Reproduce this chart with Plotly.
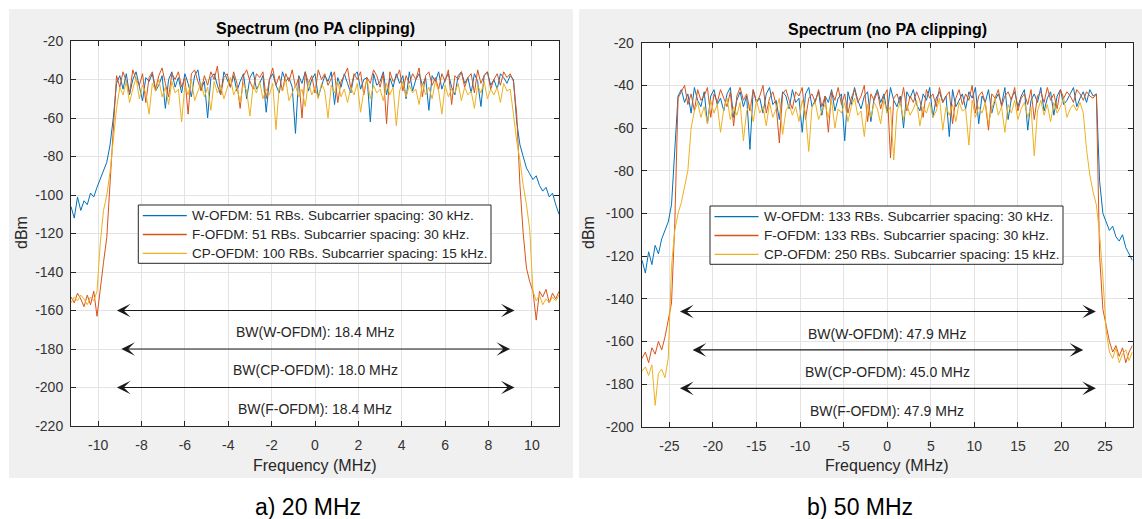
import numpy as np
import plotly.graph_objects as go

W, H = 1142, 519
FONT = "Liberation Sans, Arial, Helvetica, sans-serif"
C_W, C_F, C_CP = "#0072BD", "#D95319", "#EDB120"
AX = "#262626"

# ---------------- data: 20 MHz case ----------------
freq20 = np.round(np.linspace(-11.25, 11.25, 151), 3)

w20_low = [-106, -112, -101, -108, -103, -105, -99, -101, -96, -92, -88, -83, -74, -60]
w20_band = [
    -42, -38, -45, -37, -48, -40, -36, -44, -51, -39, -41, -37, -46, -43, -38, -55, -40, -36, -44, -39,
    -47, -37, -42, -49, -38, -35, -45, -41, -60, -39, -37, -43, -48, -36, -40, -44, -38, -46, -41, -37,
    -50, -39, -36, -45, -42, -38, -57, -40, -37, -43, -47, -36, -41, -39, -44, -68, -38, -42, -36, -46,
    -40, -37, -49, -43, -38, -41, -36, -53, -39, -44, -37, -42, -47, -38, -36, -45, -40, -39, -62, -37,
    -43, -41, -36, -48, -39, -44, -37, -42, -38, -50, -36, -46, -40, -37, -43, -39, -56, -38, -41, -36,
    -45, -40, -37, -44, -48, -38, -36, -42, -39, -47, -37, -41, -54, -38, -36, -43, -40, -45, -37, -39,
    -42, -38, -40]
w20_high = [-62, -74, -80, -86, -89, -92, -90, -95, -98, -96, -101, -99, -105, -110]

f20_low = [-153, -156, -151, -154, -158, -152, -157, -150, -163, -148, -135, -122, -95, -62]
f20_band = [
    -38, -44, -36, -41, -47, -35, -40, -43, -37, -52, -39, -36, -45, -38, -34, -42, -49, -37, -40, -36,
    -44, -39, -58, -37, -35, -41, -46, -38, -43, -36, -40, -33, -48, -39, -37, -44, -36, -42, -55, -38,
    -35, -41, -45, -37, -39, -36, -50, -40, -34, -43, -38, -46, -37, -41, -35, -44, -39, -60, -36, -42,
    -38, -47, -35, -40, -37, -43, -39, -36, -52, -41, -38, -34, -45, -37, -40, -36, -48, -39, -42, -35,
    -38, -44, -37, -63, -36, -41, -39, -35, -46, -38, -42, -37, -40, -34, -49, -38, -36, -43, -39, -45,
    -37, -41, -35, -53, -38, -40, -36, -44, -39, -37, -47, -35, -42, -38, -36, -45, -40, -37, -43, -36,
    -39, -37, -41]
f20_high = [-58, -95, -120, -138, -145, -150, -165, -150, -153, -149, -156, -151, -154, -150]

cp20_low = [-156, -153, -155, -152, -154, -157, -153, -155, -150, -125, -108, -100, -88, -70]
cp20_band = [
    -55,
    -44, -48, -41, -52, -45, -39, -50, -43, -47, -58, -42, -46, -40, -49, -44, -53, -41, -47, -45, -62,
    -43, -48, -40, -51, -46, -42, -49, -44, -56, -41, -47, -43, -50, -45, -39, -48, -44, -52, -42, -46,
    -59, -43, -47, -41, -50, -45, -48, -42, -66, -44, -46, -40, -51, -47, -43, -49, -45, -54, -41, -48,
    -44, -50, -42, -46, -60, -43, -47, -41, -49, -45, -52, -44, -48, -42, -57, -46, -40, -50, -43, -47,
    -45, -51, -42, -48, -44, -64, -46, -41, -49, -43, -47, -45, -53, -42, -48, -44, -50, -41, -46, -58,
    -43, -49, -45, -47, -42, -51, -44, -48, -46, -55, -43, -47, -41, -50, -45, -48, -44, -52, -42, -46,
    -45,
    -58]
cp20_high = [-72, -82, -95, -105, -118, -150, -155, -152, -157, -154, -156, -153, -155, -152]

names20 = ["W-OFDM: 51 RBs. Subcarrier spacing: 30 kHz.",
           "F-OFDM: 51 RBs. Subcarrier spacing: 30 kHz.",
           "CP-OFDM: 100 RBs. Subcarrier spacing: 15 kHz."]
bw20_labels = ["W-OFDM", "CP-OFDM", "F-OFDM"]
bw20_values = [18.4, 18.0, 18.4]

# ---------------- data: 50 MHz case ----------------
freq50 = np.round(np.linspace(-28.125, 28.125, 151), 4)

w50_low = [-122, -128, -118, -124, -115, -119, -112, -108, -104, -96, -72]
w50_band = [
    -45, -42, -48, -44, -53, -41, -47, -50, -43, -58, -45, -42, -49, -46, -52, -44, -41, -55, -47, -43,
    -50, -45, -70, -42, -48, -46, -53, -44, -41, -49, -47, -56, -43, -45, -51, -42, -48, -46, -62, -44,
    -41, -50, -47, -43, -54, -45, -48, -42, -52, -46, -44, -66, -43, -49, -41, -47, -51, -45, -43, -57,
    -46, -42, -48, -44, -53, -41, -47, -50, -45, -60, -43, -46, -42, -49, -52, -44, -47, -41, -55, -46,
    -43, -48, -45, -64, -42, -50, -47, -44, -51, -43, -46, -41, -58, -45, -48, -42, -53, -47, -44, -49,
    -41, -56, -46, -43, -50, -45, -42, -61, -47, -44, -48, -41, -52, -46, -43, -54, -45, -42, -49, -47,
    -44, -41, -50, -46, -43, -48, -42, -45, -44]
w50_high = [-85, -100, -104, -108, -106, -111, -113, -110, -116, -119, -122]

f50_low = [-168, -165, -170, -163, -166, -160, -164, -158, -150, -142, -105]
f50_band = [
    -46, -43, -40, -49, -44, -52, -42, -47, -45, -41, -55, -44, -48, -42, -46, -50, -43, -59, -45, -41,
    -47, -44, -52, -42, -48, -45, -40, -53, -46, -43, -49, -67, -44, -42, -47, -51, -43, -45, -41, -56,
    -46, -44, -48, -42, -50, -45, -62, -43, -47, -41, -49, -44, -53, -46, -42, -48, -45, -40, -57, -44,
    -47, -43, -51, -45, -42, -74, -46, -44, -49, -41, -52, -45, -48, -43, -47, -55, -42, -46, -44, -50,
    -41, -48, -45, -43, -58, -46, -42, -49, -44, -47, -40, -53, -45, -43, -48, -61, -44, -46, -42, -50,
    -45, -43, -47, -41, -52, -46, -44, -49, -42, -56, -45, -43, -48, -41, -47, -44, -51, -42, -46, -43,
    -45, -48, -42, -44, -47, -43, -45, -46, -44]
f50_high = [-120, -145, -152, -160, -165, -162, -167, -163, -170, -165, -162]

cp50_low = [-174, -172, -176, -171, -190, -175, -173, -177, -168, -125, -108, -100, -95, -88, -80]
cp50_band = [
    -60, -52, -48, -55, -50, -58, -47, -53, -49, -62, -51, -46, -56, -50, -54, -48, -66, -52, -49, -57,
    -47, -53, -50, -59, -48, -55, -51, -46, -63, -52, -49, -54, -50, -57, -47, -53, -71, -50, -48, -56,
    -52, -49, -55, -47, -60, -51, -53, -48, -57, -50, -46, -54, -52, -64, -49, -55, -48, -51, -58, -47,
    -53, -50, -75, -52, -48, -56, -49, -54, -51, -47, -59, -50, -53, -48, -55, -52, -46, -61, -50, -54,
    -49, -57, -48, -52, -51, -68, -47, -55, -50, -53, -48, -58, -51, -46, -54, -50, -62, -49, -53, -47,
    -56, -51, -48, -55, -50, -73, -52, -47, -54, -49, -57, -48, -53, -50, -46, -55, -51, -49, -52, -48,
    -53]
cp50_high = [-70, -82, -90, -96, -110, -130, -155, -165, -168, -163, -170, -166, -164, -169, -165]

names50 = ["W-OFDM: 133 RBs. Subcarrier spacing: 30 kHz.",
           "F-OFDM: 133 RBs. Subcarrier spacing: 30 kHz.",
           "CP-OFDM: 250 RBs. Subcarrier spacing: 15 kHz."]
bw50_labels = ["W-OFDM", "CP-OFDM", "F-OFDM"]
bw50_values = [47.9, 45.0, 47.9]

captions = ["a) 20 MHz", "b) 50 MHz"]

w20 = w20_low + w20_band + w20_high
f20 = f20_low + f20_band + f20_high
cp20 = cp20_low + cp20_band + cp20_high
w50 = w50_low + w50_band + w50_high
f50 = f50_low + f50_band + f50_high
cp50 = cp50_low + cp50_band + cp50_high
for s in (w20, f20, cp20):
    assert len(s) == len(freq20), len(s)
for s in (w50, f50, cp50):
    assert len(s) == len(freq50), len(s)


def px(x):
    return x / W


def py(y):
    return 1 - y / H


def hy(v):
    return "-" + str(abs(v)) if v < 0 else str(v)


fig = go.Figure()
colors = [C_W, C_F, C_CP]
for ys, nm, c in zip((w20, f20, cp20), names20, colors):
    fig.add_trace(go.Scatter(x=freq20, y=ys, mode="lines", name=nm,
                             line=dict(color=c, width=1), xaxis="x", yaxis="y",
                             showlegend=False))
for ys, nm, c in zip((w50, f50, cp50), names50, colors):
    fig.add_trace(go.Scatter(x=freq50, y=ys, mode="lines", name=nm,
                             line=dict(color=c, width=1), xaxis="x2", yaxis="y2",
                             showlegend=False))

tickfont = dict(family=FONT, size=14, color="#333333")
axis_common = dict(showline=True, linecolor=AX, linewidth=1, mirror="ticks",
                   ticks="inside", ticklen=5, tickcolor=AX, showgrid=True,
                   gridcolor="#e3e3e3", gridwidth=1, zeroline=False,
                   tickfont=tickfont, fixedrange=True, automargin=False)

# panel geometry (pixels)
L = dict(x0=71, x1=559, y0=41, y1=426)
R = dict(x0=641.7, x1=1132.7, y0=42.7, y1=426.7)

xt20 = list(range(-10, 11, 2))
yt20 = list(range(-220, -19, 20))
xt50 = list(range(-25, 26, 5))
yt50 = list(range(-200, -19, 20))

fig.update_layout(
    width=W, height=H, margin=dict(l=0, r=0, t=0, b=0, pad=0, autoexpand=False),
    paper_bgcolor="#f0f0f0", plot_bgcolor="white", showlegend=False,
    xaxis=dict(domain=[px(L["x0"]), px(L["x1"])], range=[-11.25, 11.25],
               tickvals=xt20, ticktext=[hy(v) for v in xt20],
               anchor="y", ticklabelstandoff=6, **axis_common),
    yaxis=dict(domain=[py(L["y1"]), py(L["y0"])], range=[-220, -20],
               tickvals=yt20, ticktext=[hy(v) for v in yt20],
               anchor="x", ticklabelstandoff=4, **axis_common),
    xaxis2=dict(domain=[px(R["x0"]), px(R["x1"])], range=[-28.17, 28.17],
                tickvals=xt50, ticktext=[hy(v) for v in xt50],
                anchor="y2", ticklabelstandoff=6, **axis_common),
    yaxis2=dict(domain=[py(R["y1"]), py(R["y0"])], range=[-200, -20],
                tickvals=yt50, ticktext=[hy(v) for v in yt50],
                anchor="x2", ticklabelstandoff=4, **axis_common),
)

shapes = []
# white gaps around the two grey figure panels
for x0, x1, y0, y1 in ((0, W, 0, 9), (0, 9, 0, H), (573, 579, 0, H), (0, W, 478, H)):
    shapes.append(dict(type="rect", xref="paper", yref="paper", x0=px(x0), x1=px(x1),
                       y0=py(y1), y1=py(y0), fillcolor="white", line=dict(width=0),
                       layer="below"))

ann = []
# manual legends
legend_specs = [(138.3, 205.0, 491.0, 263.3, names20), (710.0, 206.0, 1063.0, 264.3, names50)]
for lx0, ly0, lx1, ly1, names in legend_specs:
    shapes.append(dict(type="rect", xref="paper", yref="paper", x0=px(lx0), x1=px(lx1),
                       y0=py(ly1), y1=py(ly0), fillcolor="white",
                       line=dict(color=AX, width=1), layer="above"))
    for k, (nm, c) in enumerate(zip(names, colors)):
        yy = ly0 + 10.7 + k * 18.8
        shapes.append(dict(type="line", xref="paper", yref="paper",
                           x0=px(lx0 + 4.5), x1=px(lx0 + 48.5), y0=py(yy), y1=py(yy),
                           line=dict(color=c, width=1.3), layer="above"))
        ann.append(dict(xref="paper", yref="paper", x=px(lx0 + 51.5), y=py(yy), text=nm,
                        showarrow=False, xanchor="left", yanchor="middle",
                        font=dict(family=FONT, size=13.5, color="#262626")))
fig.update_layout(shapes=shapes)

# titles
for g in (L, R):
    cx = (g["x0"] + g["x1"]) / 2
    ann.append(dict(xref="paper", yref="paper", x=px(cx), y=py(g["y0"] - 13),
                    text="<b>Spectrum (no PA clipping)</b>", showarrow=False,
                    font=dict(family=FONT, size=16, color="#000000"),
                    xanchor="center", yanchor="middle"))
    ann.append(dict(xref="paper", yref="paper", x=px(cx), y=py(465),
                    text="Frequency (MHz)", showarrow=False,
                    font=dict(family=FONT, size=16, color="#262626"),
                    xanchor="center", yanchor="middle"))
ann.append(dict(xref="paper", yref="paper", x=px(21), y=py(233), text="dBm",
                textangle=-90, showarrow=False, font=dict(family=FONT, size=16, color="#262626"),
                xanchor="center", yanchor="middle"))
ann.append(dict(xref="paper", yref="paper", x=px(588), y=py(233), text="dBm",
                textangle=-90, showarrow=False, font=dict(family=FONT, size=16, color="#262626"),
                xanchor="center", yanchor="middle"))
# captions
for cap, cx in zip(captions, (308, 860)):
    ann.append(dict(xref="paper", yref="paper", x=px(cx), y=py(507), text=cap,
                    showarrow=False, font=dict(family=FONT, size=23, color="#000000"),
                    xanchor="center", yanchor="middle"))

# bandwidth arrows
levels20 = [-160, -180, -200]
levels50 = [-146, -164, -182]
for lab, bw, lv in zip(bw20_labels, bw20_values, levels20):
    ann.append(dict(xref="x", yref="y", axref="x", ayref="y", x=bw / 2, y=lv,
                    ax=-bw / 2, ay=lv, text="", showarrow=True, arrowhead=3,
                    startarrowhead=3, arrowside="end+start", arrowsize=1.9,
                    arrowwidth=1.2, arrowcolor="#1a1a1a", standoff=0, startstandoff=0))
    ann.append(dict(xref="x", yref="y", x=0, y=lv - 11, text=f"BW({lab}): {bw:.1f} MHz",
                    showarrow=False, font=dict(family=FONT, size=14, color="#262626"),
                    xanchor="center", yanchor="middle"))
for lab, bw, lv in zip(bw50_labels, bw50_values, levels50):
    ann.append(dict(xref="x2", yref="y2", axref="x2", ayref="y2", x=bw / 2, y=lv,
                    ax=-bw / 2, ay=lv, text="", showarrow=True, arrowhead=3,
                    startarrowhead=3, arrowside="end+start", arrowsize=1.9,
                    arrowwidth=1.2, arrowcolor="#1a1a1a", standoff=0, startstandoff=0))
    ann.append(dict(xref="x2", yref="y2", x=0, y=lv - 10.5, text=f"BW({lab}): {bw:.1f} MHz",
                    showarrow=False, font=dict(family=FONT, size=14, color="#262626"),
                    xanchor="center", yanchor="middle"))
fig.update_layout(annotations=ann)

fig.write_html("out.html", config={"displayModeBar": False})
